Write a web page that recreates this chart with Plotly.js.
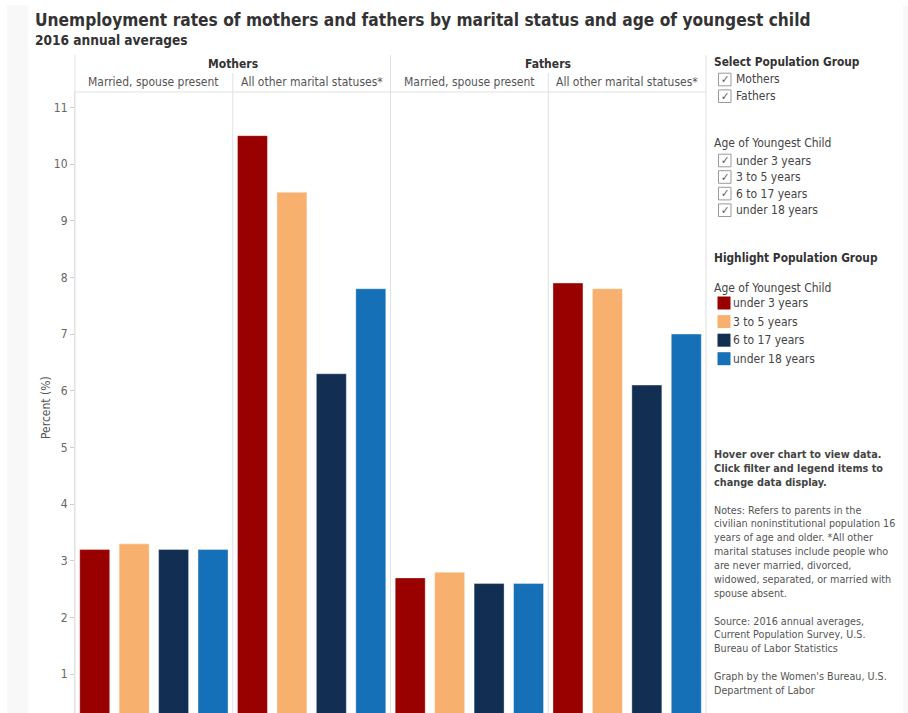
<!DOCTYPE html>
<html><head><meta charset="utf-8">
<script src="https://cdn.plot.ly/plotly-3.0.1.min.js"></script>
<style>html,body{margin:0;padding:0;background:#fff;}#chart{width:908px;height:713px;}</style>
</head><body><div id="chart"></div>
<script>
// ---- data ----
var groups = ["Mothers", "Fathers"];
var statuses = ["Married, spouse present", "All other marital statuses*"];
var ages = ["under 3 years", "3 to 5 years", "6 to 17 years", "under 18 years"];
var under3 = [3.2, 10.5, 2.7, 7.9];
var age3to5 = [3.3, 9.5, 2.8, 7.8];
var age6to17 = [3.2, 6.3, 2.6, 6.1];
var under18 = [3.2, 7.8, 2.6, 7.0];
var ageColors = ["#990000", "#F8B06E", "#122E52", "#1570B8"];
var yTicks = [1, 2, 3, 4, 5, 6, 7, 8, 9, 10, 11];

var panels = [];
groups.forEach(function (g) { statuses.forEach(function (s) { panels.push(g + " | " + s); }); });
var series = [under3, age3to5, age6to17, under18];

// ---- geometry helpers (pixel -> paper) ----
var W = 908, H = 713, L = 75, R = 706, T = 92, B = 713;
function X(px) { return (px - L) / (R - L); }
function Y(py) { return (B - py) / (B - T); }
var FONT = "'DejaVu Sans Condensed', 'DejaVu Sans', sans-serif";

var traces = series.map(function (vals, i) {
  return {
    type: "bar", x: panels, y: vals, name: ages[i],
    marker: { color: ageColors[i], line: { width: 1, color: "rgba(255,255,255,0.35)" } },
    hovertemplate: ages[i] + ": %{y}%<extra></extra>"
  };
});

var lineC = "#e1e1e1";
var shapes = [
  { type: "rect", xref: "paper", yref: "paper", x0: X(7), x1: X(28), y0: Y(713), y1: Y(5), fillcolor: "#f8f8f8", line: { width: 0 }, layer: "below" },
  { type: "rect", xref: "paper", yref: "paper", x0: X(903), x1: X(908), y0: Y(713), y1: Y(6), fillcolor: "#f8f8f8", line: { width: 0 }, layer: "below" },
  // header lines
  { type: "line", xref: "paper", yref: "paper", x0: 0, x1: 1, y0: 1, y1: 1, line: { color: lineC, width: 1 } },
  { type: "line", xref: "paper", yref: "paper", x0: 0, x1: 0, y0: 0, y1: Y(55), line: { color: lineC, width: 1 } },
  { type: "line", xref: "paper", yref: "paper", x0: 1, x1: 1, y0: 0, y1: Y(55), line: { color: lineC, width: 1 } },
  { type: "line", xref: "x", yref: "paper", x0: 1.5, x1: 1.5, y0: 0, y1: Y(55), line: { color: lineC, width: 1 } },
  { type: "line", xref: "x", yref: "paper", x0: 0.5, x1: 0.5, y0: 0, y1: Y(73), line: { color: lineC, width: 1 } },
  { type: "line", xref: "x", yref: "paper", x0: 2.5, x1: 2.5, y0: 0, y1: Y(73), line: { color: lineC, width: 1 } }
];

var annotations = [];
var PADX = 3; // annotation box padding compensation for left-anchored text
function txt(t, px, py, size, opts) {
  opts = opts || {};
  var anchor = opts.xanchor || "left";
  annotations.push({
    text: t, xref: "paper", yref: "paper", x: X(anchor === "left" ? px - PADX : px), y: Y(py),
    xanchor: anchor, yanchor: "middle", showarrow: false,
    textangle: opts.angle || 0,
    font: { family: FONT, size: size, color: opts.color || "#333", weight: opts.bold ? "bold" : "normal" }
  });
}
// titles
txt("Unemployment rates of mothers and fathers by marital status and age of youngest child", 36, 20.5, 17.2, { bold: true, color: "#333" });
txt("2016 annual averages", 36, 40, 13.6, { bold: true, color: "#333" });
// column headers
groups.forEach(function (g, gi) {
  annotations.push({ text: g, xref: "x", yref: "paper", x: gi * 2 + 0.5, y: Y(63.5), xanchor: "center", yanchor: "middle", showarrow: false,
    font: { family: FONT, size: 12, color: "#333", weight: "bold" } });
  statuses.forEach(function (s, si) {
    annotations.push({ text: s, xref: "x", yref: "paper", x: gi * 2 + si, y: Y(82.3), xanchor: "center", yanchor: "middle", showarrow: false,
      font: { family: FONT, size: 12, color: "#555" } });
  });
});
// y title
txt("Percent (%)", 46, 408, 12, { angle: -90, xanchor: "center", color: "#555" });

// right panel
txt("Select Population Group", 714.5, 62, 11.8, { bold: true });
var checkRows = [[groups[0], 79.5], [groups[1], 96.2]];
ages.forEach(function (a, i) { checkRows.push([a, [160.5, 177, 193.6, 210.2][i]]); });
checkRows.forEach(function (r) {
  shapes.push({ type: "rect", xref: "paper", yref: "paper", x0: X(718.5), x1: X(731), y0: Y(r[1] + 6.3), y1: Y(r[1] - 6.3), line: { color: "#9a9a9a", width: 1 }, fillcolor: "#fff" });
  txt("✓", 724.8, r[1], 11, { xanchor: "center", color: "#555" });
  txt(r[0], 736.5, r[1], 12, { color: "#444" });
});
txt("Age of Youngest Child", 714.5, 143, 12, { color: "#444" });
txt("Highlight Population Group", 714.5, 258, 11.8, { bold: true });
txt("Age of Youngest Child", 714.5, 288, 12, { color: "#444" });
var legY = [303, 321.6, 340.2, 358.7];
ages.forEach(function (a, i) {
  shapes.push({ type: "rect", xref: "paper", yref: "paper", x0: X(717.5), x1: X(730.5), y0: Y(legY[i] + 6.5), y1: Y(legY[i] - 6.5), line: { width: 0 }, fillcolor: ageColors[i] });
  txt(a, 734, legY[i], 12, { color: "#444" });
});
var boldNote = ["Hover over chart to view data.", "Click filter and legend items to", "change data display."];
boldNote.forEach(function (t, i) { txt(t, 714.5, 454.5 + i * 14.1, 10.8, { bold: true, color: "#444" }); });
var notes = ["Notes: Refers to parents in the", "civilian noninstitutional population 16", "years of age and older. *All other",
  "marital statuses include people who", "are never married, divorced,", "widowed, separated, or married with", "spouse absent."];
notes.forEach(function (t, i) { txt(t, 714.5, 510 + i * 13.85, 10.7, { color: "#555" }); });
var source = ["Source: 2016 annual averages,", "Current Population Survey, U.S.", "Bureau of Labor Statistics"];
source.forEach(function (t, i) { txt(t, 714.5, 621 + i * 13.8, 10.7, { color: "#555" }); });
var credit = ["Graph by the Women's Bureau, U.S.", "Department of Labor"];
credit.forEach(function (t, i) { txt(t, 714.5, 676 + i * 14, 10.7, { color: "#555" }); });

var layout = {
  width: W, height: H,
  margin: { l: L, r: W - R, t: T, b: H - B, pad: 0 },
  paper_bgcolor: "#fff", plot_bgcolor: "#fff",
  barmode: "group", bargap: 0, bargroupgap: 0.24,
  showlegend: false,
  font: { family: FONT, color: "#555" },
  xaxis: { type: "category", range: [-0.5, 3.5], showticklabels: false, showline: false, showgrid: false, zeroline: false, ticks: "", fixedrange: true },
  yaxis: { range: [0.317, 11.27], tickvals: yTicks, ticktext: yTicks.map(String), showgrid: false, zeroline: false,
    showline: true, linecolor: lineC, linewidth: 1, ticks: "outside", ticklen: 4, tickcolor: "#cfcfcf",
    tickfont: { family: FONT, size: 12, color: "#666" }, fixedrange: true },
  shapes: shapes, annotations: annotations
};
Plotly.newPlot("chart", traces, layout, { displayModeBar: false, staticPlot: false });
</script></body></html>
